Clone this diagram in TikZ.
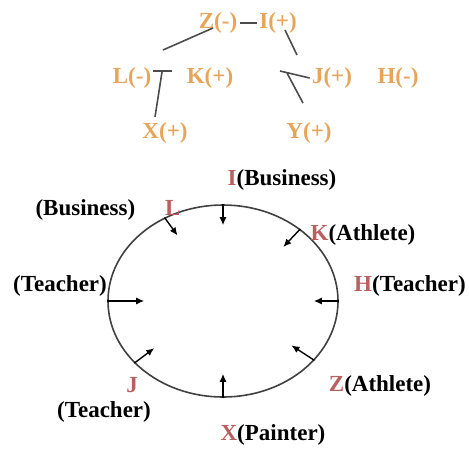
\documentclass[tikz,border=0pt]{standalone}
\usepackage{fontspec}
\setmainfont{Liberation Serif}
\usetikzlibrary{shapes.geometric,arrows.meta}
\definecolor{treeorange}{RGB}{232,165,90}
\definecolor{seatred}{RGB}{185,95,95}
\begin{document}
\begin{tikzpicture}[
    x=0.5pt, y=-0.5pt,
    font=\fontsize{11.5}{13}\selectfont\bfseries,
    tree/.style={text=treeorange, inner sep=1pt},
    seat/.style={text=black, inner sep=1pt},
    link/.style={draw=black!70, line width=0.8pt},
    arr/.style={-{Latex[length=4pt,width=3.5pt]}, line width=0.7pt},
]
    \useasboundingbox (0,0) rectangle (469,451);

    % Top: sign tree
    \node[tree] (Z) at (218,23) {Z(-)};
    \node[tree] (I) at (278,23) {I(+)};
    \node[tree] (L) at (132,78) {L(-)};
    \node[tree] (K) at (210,78) {K(+)};
    \node[tree] (J) at (332,78) {J(+)};
    \node[tree] (H) at (398,78) {H(-)};
    \node[tree] (X) at (165,133) {X(+)};
    \node[tree] (Y) at (309,133) {Y(+)};

    \coordinate (zl) at (163,50);
    \coordinate (ta) at (153,71);
    \coordinate (tb) at (172,71);
    \coordinate (tc) at (162,72);
    \coordinate (td) at (155,117);
    \coordinate (ia) at (285,30);
    \coordinate (ib) at (297,55);
    \coordinate (ja) at (280,71);
    \coordinate (ya) at (287,73);
    \coordinate (yb) at (303,103);

    \draw[link] (Z) -- (I);
    \draw[link] (213,28) -- (zl);
    \draw[link] (ta) -- (tb);
    \draw[link] (tc) -- (td);
    \draw[link] (ia) -- (ib);
    \draw[link] (ja) -- (J.west);
    \draw[link] (ya) -- (yb);

    % Bottom: seating ring
    \node[ellipse, draw=black!75, line width=0.8pt, minimum width=115pt, minimum height=96pt, inner sep=0pt] (ring) at (223,301) {};

    \node[seat] (sI) at (282,180) {\textcolor{seatred}{I}(Business)};
    \node[seat] (sL) at (108,210) {(Business)\hspace{1.3em}\textcolor{seatred}{L}};
    \node[seat] (sK) at (363,235) {\textcolor{seatred}{K}(Athlete)};
    \node[seat] (sT) at (60,286) {(Teacher)};
    \node[seat] (sH) at (410,286) {\textcolor{seatred}{H}(Teacher)};
    \node[seat] (sJ) at (132,385) {\textcolor{seatred}{J}};
    \node[seat] (sJT) at (104,412) {(Teacher)};
    \node[seat] (sZ) at (380,386) {\textcolor{seatred}{Z}(Athlete)};
    \node[seat] (sX) at (273,435) {\textcolor{seatred}{X}(Painter)};

    \foreach \ang/\dx/\dy in {90/0/21, 125/13/18, 43/-17/18, 180/37/0, 0/-25/0, 215/20/-15, 327/-23/-15, 270/0/-24}
        \draw[arr] (ring.\ang) -- ++(\dx,\dy);
\end{tikzpicture}
\end{document}
